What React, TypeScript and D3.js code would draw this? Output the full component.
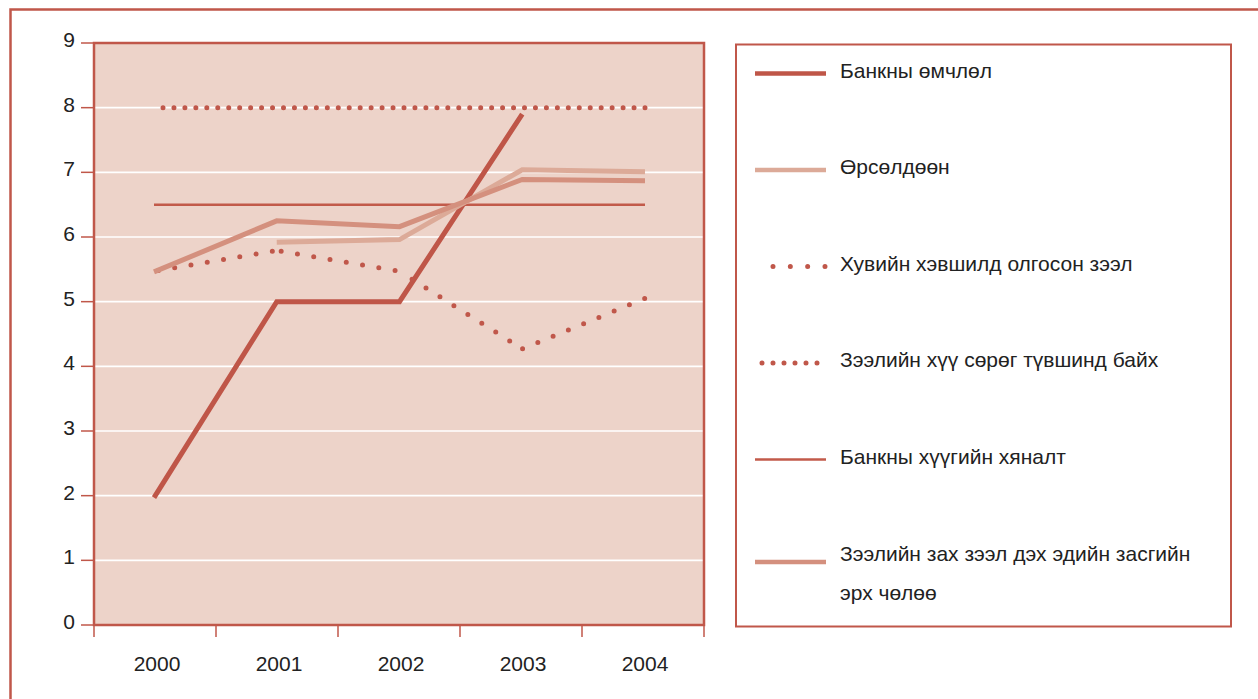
import React from "react";
import * as d3 from "d3";

const years = ["2000", "2001", "2002", "2003", "2004"];
const yTicks = [0, 1, 2, 3, 4, 5, 6, 7, 8, 9];

const seriesNames = [
  "Банкны өмчлөл",
  "Өрсөлдөөн",
  "Хувийн хэвшилд олгосон зээл",
  "Зээлийн хүү сөрөг түвшинд байх",
  "Банкны хүүгийн хяналт",
  "Зээлийн зах зээл дэх эдийн засгийн эрх чөлөө",
];

const bankOwnership: (number | null)[] = [1.97, 5.0, 5.0, 7.9, null];
const competition: (number | null)[] = [null, 5.92, 5.96, 7.04, 7.01];
const privateCredit: (number | null)[] = [5.47, 5.79, 5.47, 4.27, 5.05];
const negativeRate: (number | null)[] = [8, 8, 8, 8, 8];
const rateControl: (number | null)[] = [6.5, 6.5, 6.5, 6.5, 6.5];
const creditFreedom: (number | null)[] = [5.46, 6.25, 6.16, 6.89, 6.87];

const FONT = "'Liberation Sans', Arial, sans-serif";
const RED = "#c0574a";

type Style = {
  color: string;
  width: number;
  kind: "solid" | "dotSeg" | "dotFine";
};

const styles: Style[] = [
  { color: "#bf5648", width: 5, kind: "solid" },
  { color: "#dcaa98", width: 5, kind: "solid" },
  { color: "#c0574a", width: 5, kind: "dotSeg" },
  { color: "#c0574a", width: 5, kind: "dotFine" },
  { color: "#c25a4a", width: 2.5, kind: "solid" },
  { color: "#d4907e", width: 5, kind: "solid" },
];

const seriesData = [bankOwnership, competition, privateCredit, negativeRate, rateControl, creditFreedom];
const drawOrder = [4, 0, 1, 2, 3, 5];

export default function App() {
  const left = 94, right = 704, top = 43, bottom = 625;
  const x = d3.scaleBand<string>().domain(years).range([left, right]).padding(0);
  const px = d3.scalePoint<string>().domain(years).range([154, 645]);
  const y = d3.scaleLinear().domain([0, 9]).range([bottom, top]);
  const cx = (i: number) => (x(years[i]) as number) + x.bandwidth() / 2;
  const lx = (i: number) => px(years[i]) as number;

  const line = d3
    .line<number | null>()
    .defined((d) => d !== null)
    .x((_, i) => lx(i))
    .y((d) => y(d as number));

  const renderSeries = (si: number) => {
    const s = styles[si];
    const data = seriesData[si];
    if (s.kind === "solid") {
      return (
        <path key={si} d={line(data) || ""} fill="none" stroke={s.color} strokeWidth={s.width} strokeLinejoin="miter" />
      );
    }
    if (s.kind === "dotFine") {
      const L = lx(data.length - 1) - lx(0);
      const start = 9;
      const n = 44;
      const sp = (L - start) / n;
      return (
        <path
          key={si}
          d={line(data) || ""}
          fill="none"
          stroke={s.color}
          strokeWidth={s.width}
          strokeDasharray={`0 ${sp}`}
          strokeDashoffset={sp - start}
          strokeLinecap="round"
        />
      );
    }
    // dotted, pattern restarting on each segment, dots centred in each segment
    const segs = [];
    for (let i = 0; i < data.length - 1; i++) {
      const a = data[i], b = data[i + 1];
      if (a === null || b === null) continue;
      const x0 = lx(i), y0 = y(a), x1 = lx(i + 1), y1 = y(b);
      const L = Math.hypot(x1 - x0, y1 - y0);
      const sp = 16.5;
      const n = Math.floor((L - 26) / sp) + 1;
      const start = (L - (n - 1) * sp) / 2;
      const seg = d3.line()([[x0, y0], [x1, y1]]) || "";
      segs.push(
        <path
          key={si + "-" + i}
          d={seg}
          fill="none"
          stroke={s.color}
          strokeWidth={s.width}
          strokeDasharray={`0 ${sp}`}
          strokeDashoffset={sp - start}
          strokeLinecap="round"
        />
      );
    }
    return <g key={si}>{segs}</g>;
  };

  const legendTop = 73.5;
  const legendStep = 96.5;

  return (
    <svg
      width={1258}
      height={699}
      style={{ position: "absolute", left: 0, top: 0, background: "#fff" }}
      fontFamily={FONT}
    >
      {/* outer frame */}
      <rect x={10.5} y={9.5} width={1300} height={800} fill="none" stroke={RED} strokeWidth={2.5} />

      {/* plot background */}
      <rect x={left} y={top} width={right - left} height={bottom - top} fill="#edd3c9" />
      {yTicks.slice(1, -1).map((t) => (
        <line key={t} x1={left} x2={right} y1={y(t)} y2={y(t)} stroke="#ffffff" strokeWidth={1.6} />
      ))}

      {/* series */}
      {drawOrder.map((si) => renderSeries(si))}

      {/* plot border */}
      <rect x={left} y={top} width={right - left} height={bottom - top} fill="none" stroke={RED} strokeWidth={2.5} />

      {/* y axis ticks and labels */}
      {yTicks.map((t) => (
        <g key={t}>
          <line x1={81} x2={left} y1={y(t)} y2={y(t)} stroke={RED} strokeWidth={1.5} />
          <text x={75} y={y(t) - 1.5} textAnchor="end" fontSize={21} fill="#222" dominantBaseline="middle">
            {t}
          </text>
        </g>
      ))}

      {/* x axis ticks and labels */}
      {years.map((yr) => (
        <line key={"t" + yr} x1={x(yr) as number} x2={x(yr) as number} y1={bottom} y2={637} stroke={RED} strokeWidth={1.5} />
      ))}
      <line x1={right} x2={right} y1={bottom} y2={637} stroke={RED} strokeWidth={1.5} />
      {years.map((yr, i) => (
        <text key={yr} x={cx(i) + 2} y={671} textAnchor="middle" fontSize={21} fill="#222">
          {yr}
        </text>
      ))}

      {/* legend */}
      <rect x={736} y={44.5} width={495} height={582} fill="none" stroke={RED} strokeWidth={2} />
      {seriesNames.map((name, i) => {
        const s = styles[i];
        const ly = legendTop + i * legendStep;
        const isLast = i === seriesNames.length - 1;
        const lineY = isLast ? ly + 6 : ly;
        return (
          <g key={name}>
            {s.kind !== "solid" ? (
              <line
                x1={i === 2 ? 773 : 762}
                x2={i === 2 ? 825 : 828}
                y1={lineY}
                y2={lineY}
                stroke={s.color}
                strokeWidth={s.width}
                strokeDasharray={i === 2 ? "0 17.33" : "0 11"}
                strokeLinecap="round"
              />
            ) : (
              <line x1={755} x2={826} y1={lineY} y2={lineY} stroke={s.color} strokeWidth={s.width === 5 ? 4.5 : 2.5} />
            )}
            {isLast ? (
              <text x={840} y={ly - 1.5} fontSize={21} fill="#222" dominantBaseline="middle">
                <tspan x={840} dy={0}>Зээлийн зах зээл дэх эдийн засгийн</tspan>
                <tspan x={840} dy={39}>эрх чөлөө</tspan>
              </text>
            ) : (
              <text x={840} y={ly - 1.5} fontSize={21} fill="#222" dominantBaseline="middle">
                {name}
              </text>
            )}
          </g>
        );
      })}
    </svg>
  );
}
